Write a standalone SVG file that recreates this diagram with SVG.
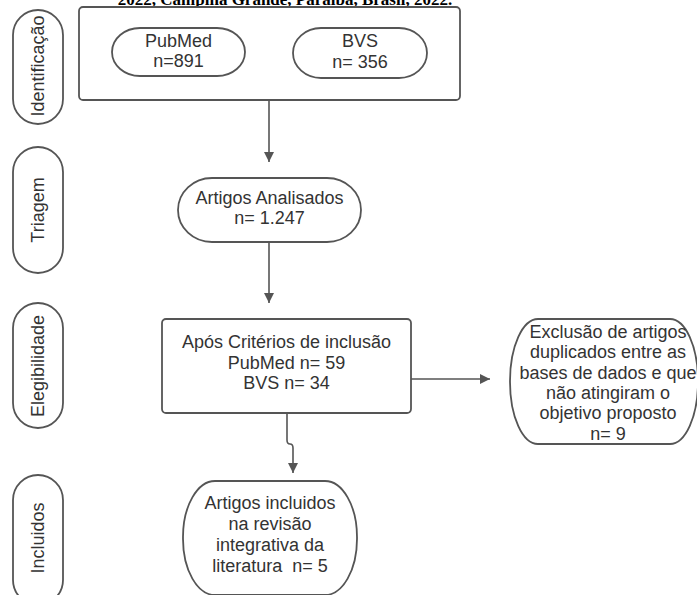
<svg xmlns="http://www.w3.org/2000/svg" width="697" height="595" viewBox="0 0 697 595">
<style>
.s{fill:#fff;stroke:#555;stroke-width:1.8}
.t{font-family:"Liberation Sans",Arial,sans-serif;font-size:18px;fill:#333;text-anchor:middle}
.c{fill:none;stroke:#555;stroke-width:1.6}
.h{font-family:"Liberation Serif","Times New Roman",serif;font-size:17px;font-weight:bold;fill:#000;text-anchor:middle}
</style>
<defs>
<marker id="a" markerWidth="10" markerHeight="10" refX="10" refY="5" orient="auto" markerUnits="userSpaceOnUse" viewBox="0 0 10 10">
<path d="M0,0 L10,5 L0,10 z" fill="#555"/>
</marker>
</defs>
<rect width="697" height="595" fill="#fff"/>
<text class="h" x="285" y="5">2022, Campina Grande, Paraíba, Brasil, 2022.</text>

<g id="lane-identificacao">
<rect class="s" x="13" y="10" width="50" height="114" rx="25" ry="25"/>
<text class="t" transform="translate(44,66) rotate(-90)">Identificação</text>
</g>
<g id="lane-triagem">
<rect class="s" x="13" y="147" width="50" height="126" rx="25" ry="25"/>
<text class="t" transform="translate(44,210) rotate(-90)">Triagem</text>
</g>
<g id="lane-elegibilidade">
<rect class="s" x="13" y="303" width="50" height="125" rx="25" ry="25"/>
<text class="t" transform="translate(44,366) rotate(-90)">Elegibilidade</text>
</g>
<g id="lane-incluidos">
<rect class="s" x="13" y="475" width="50" height="130" rx="25" ry="25"/>
<text class="t" transform="translate(44,538) rotate(-90)">Incluidos</text>
</g>

<g id="identificacao-box">
<rect class="s" x="79" y="7" width="381" height="93" rx="4" ry="4"/>
</g>
<g id="pubmed">
<rect class="s" x="112" y="28" width="133" height="48" rx="28" ry="24"/>
<text class="t" x="178.5" y="47">PubMed</text>
<text class="t" x="178.5" y="67">n=891</text>
</g>
<g id="bvs">
<rect class="s" x="293" y="28" width="134" height="50" rx="28" ry="25"/>
<text class="t" x="360" y="47">BVS</text>
<text class="t" x="360" y="68">n= 356</text>
</g>
<g id="analisados">
<rect class="s" x="178" y="178" width="183" height="64" rx="34" ry="32"/>
<text class="t" x="269.5" y="204">Artigos Analisados</text>
<text class="t" x="269.5" y="224">n= 1.247</text>
</g>
<g id="criterios">
<rect class="s" x="162" y="319" width="249" height="94" rx="4" ry="4"/>
<text class="t" x="286.5" y="348">Após Critérios de inclusão</text>
<text class="t" x="286.5" y="369">PubMed n= 59</text>
<text class="t" x="286.5" y="389">BVS n= 34</text>
</g>
<g id="exclusao">
<rect class="s" x="510" y="319" width="188" height="125" rx="28" ry="62"/>
<text class="t" x="608" y="338">Exclusão de artigos</text>
<text class="t" x="608" y="358">duplicados entre as</text>
<text class="t" x="608" y="379">bases de dados e que</text>
<text class="t" x="608" y="399">não atingiram o</text>
<text class="t" x="608" y="419">objetivo proposto</text>
<text class="t" x="608" y="440">n= 9</text>
</g>
<g id="incluidos">
<rect class="s" x="183" y="481" width="174" height="114" rx="32" ry="56"/>
<text class="t" x="270" y="509">Artigos incluidos</text>
<text class="t" x="270" y="530">na revisão</text>
<text class="t" x="270" y="551">integrativa da</text>
<text class="t" x="270" y="572">literatura&#160; n= 5</text>
</g>

<g id="connectors">
<path class="c" d="M269,100 V162" marker-end="url(#a)"/>
<path class="c" d="M269,242 V303" marker-end="url(#a)"/>
<path class="c" d="M287,413 V440 Q287,444 290,444 Q293,444 293,448 V473" marker-end="url(#a)"/>
<path class="c" d="M411,379 H490" marker-end="url(#a)"/>
</g>
</svg>
